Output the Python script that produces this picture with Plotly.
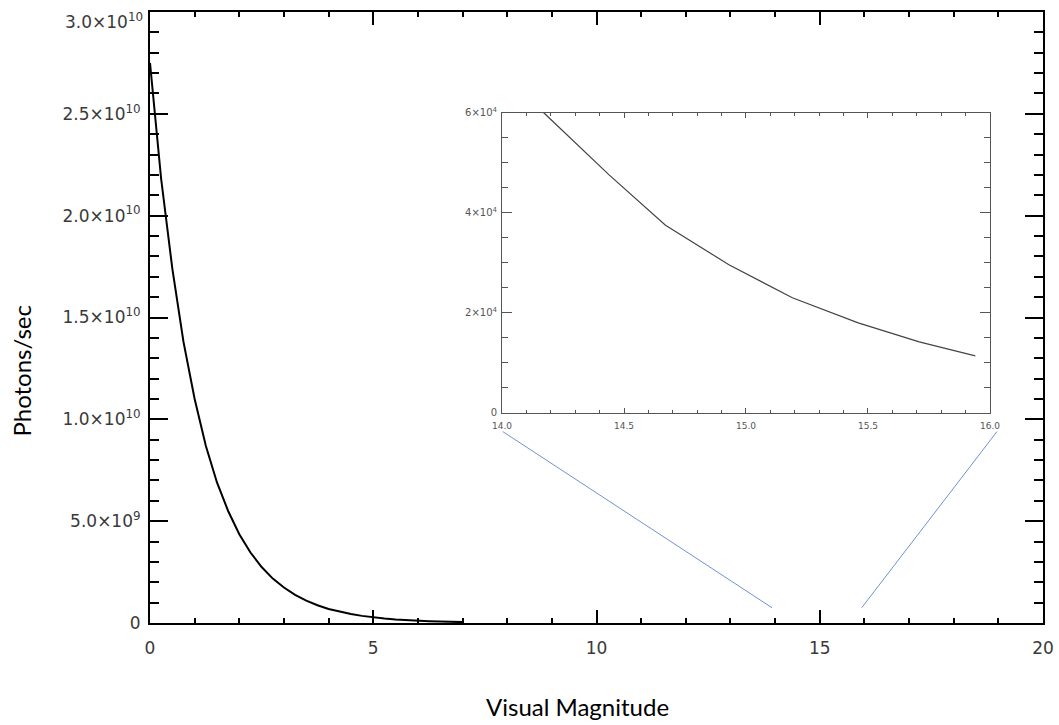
import plotly.graph_objects as go

# ---- data ----
mag_main = [0.0, 0.25, 0.5, 0.75, 1.0, 1.25, 1.5, 1.75, 2.0, 2.25, 2.5, 2.75, 3.0, 3.25,
            3.5, 3.75, 4.0, 4.25, 4.5, 4.75, 5.0, 5.25, 5.5, 5.75, 6.0, 6.25, 6.5, 6.75, 7.0]
flux_main = [2.75e10, 2.18e10, 1.74e10, 1.38e10, 1.10e10, 8.7e9, 6.9e9, 5.5e9, 4.36e9,
             3.46e9, 2.75e9, 2.18e9, 1.74e9, 1.38e9, 1.10e9, 8.7e8, 6.9e8, 5.5e8, 4.4e8,
             3.5e8, 2.75e8, 2.2e8, 1.74e8, 1.38e8, 1.1e8, 8.7e7, 6.9e7, 5.5e7, 4.4e7]

mag_zoom = [13.93, 14.17, 14.44, 14.67, 14.93, 15.19, 15.46, 15.71, 15.94]
flux_zoom = [75000, 60000, 47500, 37500, 29600, 23000, 18000, 14200, 11400]

main_y_ticks = [0, 5e9, 1e10, 1.5e10, 2e10, 2.5e10, 3e10]
main_y_text = ["0", "5.0×10<sup>9</sup>", "1.0×10<sup>10</sup>", "1.5×10<sup>10</sup>",
               "2.0×10<sup>10</sup>", "2.5×10<sup>10</sup>", ""]
top_y_label = "3.0×10<sup>10</sup>"
main_x_ticks = [0, 5, 10, 15, 20]
main_x_text = ["0", "5", "10", "15", "20"]

zoom_y_ticks = [0, 2e4, 4e4, 6e4]
zoom_y_text = ["0", "2×10<sup>4</sup>", "4×10<sup>4</sup>", "6×10<sup>4</sup>"]
zoom_x_ticks = [14.0, 14.5, 15.0, 15.5, 16.0]
zoom_x_text = ["14.0", "14.5", "15.0", "15.5", "16.0"]

# connector lines (main-axes data coordinates)
conn_x0 = [7.9, 18.97]
conn_y0 = [9.4e9, 9.4e9]
conn_x1 = [13.93, 15.94]
conn_y1 = [0.75e9, 0.75e9]

TICKFONT = dict(family="DejaVu Sans", size=17, color="#3a3a3a")
INSETFONT_Y = dict(family="DejaVu Sans", size=10, color="#555555")
INSETFONT_X = dict(family="DejaVu Sans", size=9, color="#555555")

fig = go.Figure()
fig.add_trace(go.Scatter(x=mag_main, y=flux_main, mode="lines",
                         line=dict(color="black", width=2), xaxis="x", yaxis="y",
                         hoverinfo="skip"))
fig.add_trace(go.Scatter(x=mag_zoom, y=flux_zoom, mode="lines",
                         line=dict(color="#444444", width=1.2), xaxis="x2", yaxis="y2",
                         hoverinfo="skip"))

for x0, y0, x1, y1 in zip(conn_x0, conn_y0, conn_x1, conn_y1):
    fig.add_shape(type="line", xref="x", yref="y", x0=x0, y0=y0, x1=x1, y1=y1,
                  line=dict(color="#6f93cf", width=1))

fig.update_layout(
    width=1059, height=725,
    margin=dict(l=150, r=16, t=12, b=102, autoexpand=False),
    paper_bgcolor="white", plot_bgcolor="white",
    showlegend=False,
    xaxis=dict(domain=[0, 1], range=[0, 20], tickmode="array", tickvals=main_x_ticks,
               ticktext=main_x_text, ticks="inside", ticklen=13, tickwidth=2,
               tickcolor="black", showline=True, linecolor="black", linewidth=2,
               mirror="allticks", showgrid=False, zeroline=False, tickfont=TICKFONT,
               ticklabelstandoff=9, automargin=False, ticklabeloverflow="allow",
               minor=dict(dtick=1, tick0=0, ticks="inside", ticklen=5, tickwidth=2,
                          tickcolor="black", showgrid=False)),
    yaxis=dict(domain=[0, 1], range=[0, 3e10], tickmode="array", tickvals=main_y_ticks,
               ticktext=main_y_text, ticks="inside", ticklen=18, tickwidth=2,
               tickcolor="black", showline=True, linecolor="black", linewidth=2,
               mirror="allticks", showgrid=False, zeroline=False, tickfont=TICKFONT,
               ticklabelstandoff=4, automargin=False, ticklabeloverflow="allow",
               minor=dict(dtick=1e9, tick0=0, ticks="inside", ticklen=9, tickwidth=2,
                          tickcolor="black", showgrid=False)),
    xaxis2=dict(domain=[0.3942, 0.9406], anchor="y2", range=[14, 16], tickmode="array",
                tickvals=zoom_x_ticks, ticktext=zoom_x_text, ticks="inside", ticklen=5,
                tickwidth=1, tickcolor="#555555", showline=True, linecolor="#555555",
                linewidth=1, mirror="allticks", showgrid=False, zeroline=False,
                tickfont=INSETFONT_X, ticklabelstandoff=4, automargin=False,
                minor=dict(dtick=0.1, tick0=14, ticks="inside", ticklen=3, tickwidth=1,
                           tickcolor="#555555", showgrid=False)),
    yaxis2=dict(domain=[0.3437, 0.8355], anchor="x2", range=[0, 6e4], tickmode="array",
                tickvals=zoom_y_ticks, ticktext=zoom_y_text, ticks="inside", ticklen=10,
                tickwidth=1, tickcolor="#555555", showline=True, linecolor="#555555",
                linewidth=1, mirror="allticks", showgrid=False, zeroline=False,
                tickfont=INSETFONT_Y, ticklabelstandoff=2, automargin=False,
                minor=dict(dtick=5000, tick0=0, ticks="inside", ticklen=6, tickwidth=1,
                           tickcolor="#555555", showgrid=False)),
    annotations=[
        dict(text=top_y_label, xref="paper", yref="y", x=0, y=main_y_ticks[-1],
             xanchor="right", yanchor="middle", xshift=-5, yshift=-9, showarrow=False,
             font=TICKFONT),
        dict(text="Visual Magnitude", xref="paper", yref="paper", x=0.479, y=-0.136,
             xanchor="center", yanchor="middle", showarrow=False,
             font=dict(family="Lato", size=24, color="black")),
        dict(text="Photons/sec", xref="paper", yref="paper", x=-0.1434, y=0.413,
             xanchor="center", yanchor="middle", showarrow=False, textangle=-90,
             font=dict(family="Lato", size=24, color="black")),
    ],
)

fig.write_html("out.html", config={"displayModeBar": False, "staticPlot": True},
               post_script="document.body.style.margin='0';document.body.style.overflow='hidden';")
